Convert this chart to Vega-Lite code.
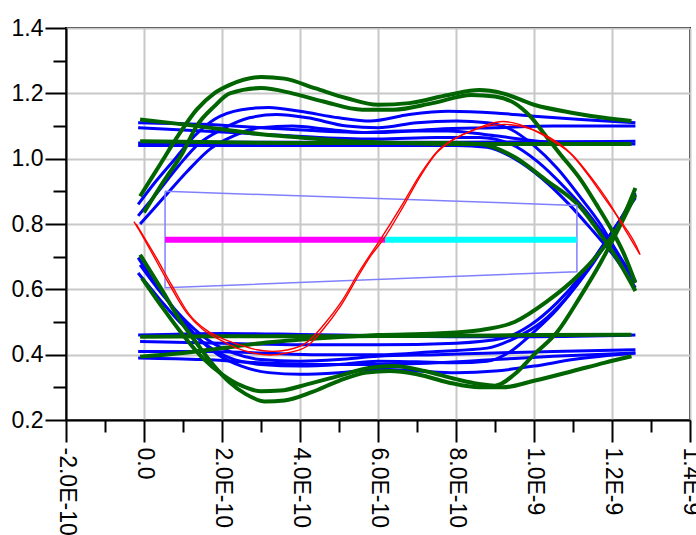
{
  "$schema": "https://vega.github.io/schema/vega-lite/v6.json",
  "width": 624,
  "height": 392,
  "autosize": "none",
  "padding": {"left": 66, "top": 28, "right": 6, "bottom": 115},
  "background": "white",
  "config": {
    "view": {"stroke": "black", "strokeWidth": 2},
    "axis": {
      "domainColor": "black", "domainWidth": 2,
      "tickColor": "black", "tickWidth": 2,
      "gridColor": "#c8c8c8", "gridWidth": 2,
      "labelFont": "Liberation Sans", "labelFontSize": 23, "labelColor": "black",
      "labelOverlap": false, "labelFlush": false, "title": null
    }
  },
  "datasets": {
    "mask": [
      {"t": 0.54e-10, "v": 0.90, "o": 1},
      {"t": 11.1e-10, "v": 0.857, "o": 2},
      {"t": 11.1e-10, "v": 0.654, "o": 3},
      {"t": 0.54e-10, "v": 0.605, "o": 4},
      {"t": 0.54e-10, "v": 0.90, "o": 5}
    ],
    "level": [
      {"s": "m", "t": 0.54e-10, "v": 0.752},
      {"s": "m", "t": 6.18e-10, "v": 0.752},
      {"s": "c", "t": 6.18e-10, "v": 0.752},
      {"s": "c", "t": 11.1e-10, "v": 0.752}
    ],
    "eye": [
      {"s":"G1","c":"g","t":-0.1e-10,"v":0.885},{"s":"G1","c":"g","t":0.4e-10,"v":0.98},{"s":"G1","c":"g","t":0.9e-10,"v":1.075},{"s":"G1","c":"g","t":1.35e-10,"v":1.15},{"s":"G1","c":"g","t":1.8e-10,"v":1.2},{"s":"G1","c":"g","t":2.2e-10,"v":1.226},{"s":"G1","c":"g","t":3e-10,"v":1.25},{"s":"G1","c":"g","t":3.6e-10,"v":1.245},{"s":"G1","c":"g","t":4.4e-10,"v":1.215},{"s":"G1","c":"g","t":5.2e-10,"v":1.185},{"s":"G1","c":"g","t":6e-10,"v":1.165},{"s":"G1","c":"g","t":6.8e-10,"v":1.17},{"s":"G1","c":"g","t":7.8e-10,"v":1.195},{"s":"G1","c":"g","t":8.6e-10,"v":1.21},{"s":"G1","c":"g","t":9.2e-10,"v":1.2},{"s":"G1","c":"g","t":10e-10,"v":1.165},{"s":"G1","c":"g","t":11e-10,"v":1.14},{"s":"G1","c":"g","t":11.8e-10,"v":1.125},{"s":"G1","c":"g","t":12.5e-10,"v":1.115},
      {"s":"G2","c":"g","t":0,"v":0.835},{"s":"G2","c":"g","t":0.5e-10,"v":0.93},{"s":"G2","c":"g","t":1e-10,"v":1.02},{"s":"G2","c":"g","t":1.35e-10,"v":1.1},{"s":"G2","c":"g","t":1.8e-10,"v":1.16},{"s":"G2","c":"g","t":2.2e-10,"v":1.2},{"s":"G2","c":"g","t":3e-10,"v":1.216},{"s":"G2","c":"g","t":3.8e-10,"v":1.2},{"s":"G2","c":"g","t":4.6e-10,"v":1.175},{"s":"G2","c":"g","t":5.6e-10,"v":1.15},{"s":"G2","c":"g","t":6.4e-10,"v":1.15},{"s":"G2","c":"g","t":7.4e-10,"v":1.17},{"s":"G2","c":"g","t":8.4e-10,"v":1.195},{"s":"G2","c":"g","t":9e-10,"v":1.19},{"s":"G2","c":"g","t":9.5e-10,"v":1.17},{"s":"G2","c":"g","t":9.9e-10,"v":1.13},{"s":"G2","c":"g","t":10.3e-10,"v":1.07},{"s":"G2","c":"g","t":10.7e-10,"v":1.01},{"s":"G2","c":"g","t":11.2e-10,"v":0.935},{"s":"G2","c":"g","t":11.6e-10,"v":0.86},{"s":"G2","c":"g","t":12e-10,"v":0.78},{"s":"G2","c":"g","t":12.3e-10,"v":0.71},{"s":"G2","c":"g","t":12.6e-10,"v":0.62},
      {"s":"G3","c":"g","t":-0.1e-10,"v":1.12},{"s":"G3","c":"g","t":1e-10,"v":1.105},{"s":"G3","c":"g","t":2e-10,"v":1.09},{"s":"G3","c":"g","t":3e-10,"v":1.075},{"s":"G3","c":"g","t":4e-10,"v":1.065},{"s":"G3","c":"g","t":5e-10,"v":1.055},{"s":"G3","c":"g","t":6e-10,"v":1.05},{"s":"G3","c":"g","t":8e-10,"v":1.045},{"s":"G3","c":"g","t":10e-10,"v":1.045},{"s":"G3","c":"g","t":12.5e-10,"v":1.045},
      {"s":"G4","c":"g","t":-0.1e-10,"v":1.053},{"s":"G4","c":"g","t":2e-10,"v":1.05},{"s":"G4","c":"g","t":4e-10,"v":1.048},{"s":"G4","c":"g","t":6e-10,"v":1.048},{"s":"G4","c":"g","t":7.8e-10,"v":1.048},{"s":"G4","c":"g","t":8.6e-10,"v":1.045},{"s":"G4","c":"g","t":9.5e-10,"v":1.005},{"s":"G4","c":"g","t":10.3e-10,"v":0.935},{"s":"G4","c":"g","t":11.2e-10,"v":0.85},{"s":"G4","c":"g","t":11.7e-10,"v":0.77},{"s":"G4","c":"g","t":12.2e-10,"v":0.68},{"s":"G4","c":"g","t":12.6e-10,"v":0.595},
      {"s":"G5","c":"g","t":-0.1e-10,"v":0.706},{"s":"G5","c":"g","t":0.5e-10,"v":0.59},{"s":"G5","c":"g","t":0.9e-10,"v":0.51},{"s":"G5","c":"g","t":1.35e-10,"v":0.435},{"s":"G5","c":"g","t":1.8e-10,"v":0.365},{"s":"G5","c":"g","t":2.2e-10,"v":0.315},{"s":"G5","c":"g","t":2.6e-10,"v":0.28},{"s":"G5","c":"g","t":3.1e-10,"v":0.257},{"s":"G5","c":"g","t":3.6e-10,"v":0.26},{"s":"G5","c":"g","t":4.3e-10,"v":0.285},{"s":"G5","c":"g","t":5e-10,"v":0.32},{"s":"G5","c":"g","t":5.7e-10,"v":0.345},{"s":"G5","c":"g","t":6.3e-10,"v":0.35},{"s":"G5","c":"g","t":7e-10,"v":0.34},{"s":"G5","c":"g","t":7.8e-10,"v":0.315},{"s":"G5","c":"g","t":8.6e-10,"v":0.3},{"s":"G5","c":"g","t":9.2e-10,"v":0.3},{"s":"G5","c":"g","t":10e-10,"v":0.32},{"s":"G5","c":"g","t":11e-10,"v":0.35},{"s":"G5","c":"g","t":11.8e-10,"v":0.375},{"s":"G5","c":"g","t":12.5e-10,"v":0.395},
      {"s":"G6","c":"g","t":-0.05e-10,"v":0.634},{"s":"G6","c":"g","t":0.5e-10,"v":0.54},{"s":"G6","c":"g","t":1e-10,"v":0.46},{"s":"G6","c":"g","t":1.5e-10,"v":0.39},{"s":"G6","c":"g","t":2e-10,"v":0.34},{"s":"G6","c":"g","t":2.5e-10,"v":0.305},{"s":"G6","c":"g","t":3e-10,"v":0.288},{"s":"G6","c":"g","t":3.5e-10,"v":0.29},{"s":"G6","c":"g","t":4.2e-10,"v":0.31},{"s":"G6","c":"g","t":5e-10,"v":0.335},{"s":"G6","c":"g","t":5.8e-10,"v":0.36},{"s":"G6","c":"g","t":6.4e-10,"v":0.365},{"s":"G6","c":"g","t":7.2e-10,"v":0.35},{"s":"G6","c":"g","t":8e-10,"v":0.325},{"s":"G6","c":"g","t":8.6e-10,"v":0.31},{"s":"G6","c":"g","t":9e-10,"v":0.305},{"s":"G6","c":"g","t":9.5e-10,"v":0.34},{"s":"G6","c":"g","t":10e-10,"v":0.4},{"s":"G6","c":"g","t":10.6e-10,"v":0.47},{"s":"G6","c":"g","t":11.2e-10,"v":0.58},{"s":"G6","c":"g","t":11.7e-10,"v":0.68},{"s":"G6","c":"g","t":12.1e-10,"v":0.77},{"s":"G6","c":"g","t":12.6e-10,"v":0.89},
      {"s":"G7","c":"g","t":-0.1e-10,"v":0.455},{"s":"G7","c":"g","t":2e-10,"v":0.456},{"s":"G7","c":"g","t":4e-10,"v":0.456},{"s":"G7","c":"g","t":6e-10,"v":0.457},{"s":"G7","c":"g","t":8e-10,"v":0.458},{"s":"G7","c":"g","t":10e-10,"v":0.46},{"s":"G7","c":"g","t":12.5e-10,"v":0.461},
      {"s":"G8","c":"g","t":-0.1e-10,"v":0.394},{"s":"G8","c":"g","t":1e-10,"v":0.405},{"s":"G8","c":"g","t":2e-10,"v":0.42},{"s":"G8","c":"g","t":3e-10,"v":0.435},{"s":"G8","c":"g","t":4.5e-10,"v":0.45},{"s":"G8","c":"g","t":6e-10,"v":0.46},{"s":"G8","c":"g","t":7.5e-10,"v":0.465},{"s":"G8","c":"g","t":8.6e-10,"v":0.475},{"s":"G8","c":"g","t":9.5e-10,"v":0.5},{"s":"G8","c":"g","t":10.3e-10,"v":0.56},{"s":"G8","c":"g","t":11.2e-10,"v":0.65},{"s":"G8","c":"g","t":11.8e-10,"v":0.73},{"s":"G8","c":"g","t":12.2e-10,"v":0.8},{"s":"G8","c":"g","t":12.6e-10,"v":0.91},
      {"s":"B1","c":"b","t":-0.15e-10,"v":1.11},{"s":"B1","c":"b","t":1.5e-10,"v":1.105},{"s":"B1","c":"b","t":3e-10,"v":1.095},{"s":"B1","c":"b","t":4.5e-10,"v":1.085},{"s":"B1","c":"b","t":6e-10,"v":1.08},{"s":"B1","c":"b","t":7.5e-10,"v":1.09},{"s":"B1","c":"b","t":9e-10,"v":1.095},{"s":"B1","c":"b","t":10.5e-10,"v":1.1},{"s":"B1","c":"b","t":12.6e-10,"v":1.1},
      {"s":"B2","c":"b","t":-0.15e-10,"v":1.095},{"s":"B2","c":"b","t":1.5e-10,"v":1.085},{"s":"B2","c":"b","t":3e-10,"v":1.075},{"s":"B2","c":"b","t":4.5e-10,"v":1.065},{"s":"B2","c":"b","t":6e-10,"v":1.06},{"s":"B2","c":"b","t":7.5e-10,"v":1.065},{"s":"B2","c":"b","t":8.6e-10,"v":1.065},{"s":"B2","c":"b","t":9.4e-10,"v":1.045},{"s":"B2","c":"b","t":10.1e-10,"v":0.99},{"s":"B2","c":"b","t":10.8e-10,"v":0.91},{"s":"B2","c":"b","t":11.4e-10,"v":0.83},{"s":"B2","c":"b","t":11.9e-10,"v":0.75},{"s":"B2","c":"b","t":12.6e-10,"v":0.62},
      {"s":"B3","c":"b","t":-0.15e-10,"v":1.048},{"s":"B3","c":"b","t":2e-10,"v":1.05},{"s":"B3","c":"b","t":4e-10,"v":1.05},{"s":"B3","c":"b","t":6e-10,"v":1.05},{"s":"B3","c":"b","t":8e-10,"v":1.05},{"s":"B3","c":"b","t":10e-10,"v":1.052},{"s":"B3","c":"b","t":12.6e-10,"v":1.053},
      {"s":"B4","c":"b","t":-0.15e-10,"v":1.04},{"s":"B4","c":"b","t":2e-10,"v":1.04},{"s":"B4","c":"b","t":4e-10,"v":1.04},{"s":"B4","c":"b","t":6e-10,"v":1.04},{"s":"B4","c":"b","t":8e-10,"v":1.04},{"s":"B4","c":"b","t":8.8e-10,"v":1.035},{"s":"B4","c":"b","t":9.5e-10,"v":1.0},{"s":"B4","c":"b","t":10.2e-10,"v":0.94},{"s":"B4","c":"b","t":10.9e-10,"v":0.86},{"s":"B4","c":"b","t":11.5e-10,"v":0.78},{"s":"B4","c":"b","t":12e-10,"v":0.71},{"s":"B4","c":"b","t":12.6e-10,"v":0.605},
      {"s":"B5","c":"b","t":-0.15e-10,"v":0.86},{"s":"B5","c":"b","t":0.3e-10,"v":0.93},{"s":"B5","c":"b","t":0.8e-10,"v":1.0},{"s":"B5","c":"b","t":1.3e-10,"v":1.07},{"s":"B5","c":"b","t":1.8e-10,"v":1.12},{"s":"B5","c":"b","t":2.5e-10,"v":1.15},{"s":"B5","c":"b","t":3.2e-10,"v":1.157},{"s":"B5","c":"b","t":4e-10,"v":1.145},{"s":"B5","c":"b","t":5e-10,"v":1.125},{"s":"B5","c":"b","t":5.8e-10,"v":1.115},{"s":"B5","c":"b","t":6.8e-10,"v":1.135},{"s":"B5","c":"b","t":7.8e-10,"v":1.145},{"s":"B5","c":"b","t":9e-10,"v":1.14},{"s":"B5","c":"b","t":10e-10,"v":1.13},{"s":"B5","c":"b","t":11.2e-10,"v":1.12},{"s":"B5","c":"b","t":12.6e-10,"v":1.11},
      {"s":"B6","c":"b","t":-0.15e-10,"v":0.825},{"s":"B6","c":"b","t":0.4e-10,"v":0.905},{"s":"B6","c":"b","t":0.9e-10,"v":0.98},{"s":"B6","c":"b","t":1.4e-10,"v":1.045},{"s":"B6","c":"b","t":2e-10,"v":1.09},{"s":"B6","c":"b","t":2.7e-10,"v":1.125},{"s":"B6","c":"b","t":3.4e-10,"v":1.135},{"s":"B6","c":"b","t":4.2e-10,"v":1.125},{"s":"B6","c":"b","t":5.2e-10,"v":1.1},{"s":"B6","c":"b","t":6e-10,"v":1.095},{"s":"B6","c":"b","t":7e-10,"v":1.11},{"s":"B6","c":"b","t":8e-10,"v":1.115},{"s":"B6","c":"b","t":8.8e-10,"v":1.11},{"s":"B6","c":"b","t":9.4e-10,"v":1.09},{"s":"B6","c":"b","t":10e-10,"v":1.04},{"s":"B6","c":"b","t":10.6e-10,"v":0.97},{"s":"B6","c":"b","t":11.2e-10,"v":0.88},{"s":"B6","c":"b","t":11.7e-10,"v":0.8},{"s":"B6","c":"b","t":12.1e-10,"v":0.72},{"s":"B6","c":"b","t":12.6e-10,"v":0.625},
      {"s":"B7","c":"b","t":-0.1e-10,"v":0.8},{"s":"B7","c":"b","t":0.5e-10,"v":0.88},{"s":"B7","c":"b","t":1.1e-10,"v":0.96},{"s":"B7","c":"b","t":1.7e-10,"v":1.03},{"s":"B7","c":"b","t":2.3e-10,"v":1.07},{"s":"B7","c":"b","t":3e-10,"v":1.095},{"s":"B7","c":"b","t":3.8e-10,"v":1.1},{"s":"B7","c":"b","t":4.7e-10,"v":1.09},{"s":"B7","c":"b","t":5.6e-10,"v":1.08},{"s":"B7","c":"b","t":6.6e-10,"v":1.085},{"s":"B7","c":"b","t":7.8e-10,"v":1.085},{"s":"B7","c":"b","t":9e-10,"v":1.07},{"s":"B7","c":"b","t":10.5e-10,"v":1.05},{"s":"B7","c":"b","t":12.6e-10,"v":1.045},
      {"s":"B8","c":"b","t":-0.15e-10,"v":0.697},{"s":"B8","c":"b","t":0.4e-10,"v":0.6},{"s":"B8","c":"b","t":0.9e-10,"v":0.52},{"s":"B8","c":"b","t":1.4e-10,"v":0.45},{"s":"B8","c":"b","t":1.9e-10,"v":0.4},{"s":"B8","c":"b","t":2.5e-10,"v":0.365},{"s":"B8","c":"b","t":3.2e-10,"v":0.345},{"s":"B8","c":"b","t":4e-10,"v":0.34},{"s":"B8","c":"b","t":5e-10,"v":0.345},{"s":"B8","c":"b","t":6e-10,"v":0.355},{"s":"B8","c":"b","t":7e-10,"v":0.35},{"s":"B8","c":"b","t":8e-10,"v":0.345},{"s":"B8","c":"b","t":9e-10,"v":0.35},{"s":"B8","c":"b","t":10e-10,"v":0.365},{"s":"B8","c":"b","t":11e-10,"v":0.385},{"s":"B8","c":"b","t":12.6e-10,"v":0.405},
      {"s":"B9","c":"b","t":-0.15e-10,"v":0.65},{"s":"B9","c":"b","t":0.4e-10,"v":0.57},{"s":"B9","c":"b","t":1e-10,"v":0.49},{"s":"B9","c":"b","t":1.6e-10,"v":0.43},{"s":"B9","c":"b","t":2.2e-10,"v":0.39},{"s":"B9","c":"b","t":3e-10,"v":0.37},{"s":"B9","c":"b","t":4e-10,"v":0.365},{"s":"B9","c":"b","t":5e-10,"v":0.37},{"s":"B9","c":"b","t":6e-10,"v":0.38},{"s":"B9","c":"b","t":7e-10,"v":0.378},{"s":"B9","c":"b","t":8e-10,"v":0.375},{"s":"B9","c":"b","t":8.8e-10,"v":0.38},{"s":"B9","c":"b","t":9.4e-10,"v":0.41},{"s":"B9","c":"b","t":10e-10,"v":0.47},{"s":"B9","c":"b","t":10.6e-10,"v":0.54},{"s":"B9","c":"b","t":11.2e-10,"v":0.63},{"s":"B9","c":"b","t":11.8e-10,"v":0.74},{"s":"B9","c":"b","t":12.6e-10,"v":0.88},
      {"s":"B10","c":"b","t":-0.1e-10,"v":0.675},{"s":"B10","c":"b","t":0.5e-10,"v":0.58},{"s":"B10","c":"b","t":1.1e-10,"v":0.5},{"s":"B10","c":"b","t":1.7e-10,"v":0.44},{"s":"B10","c":"b","t":2.3e-10,"v":0.405},{"s":"B10","c":"b","t":3e-10,"v":0.385},{"s":"B10","c":"b","t":4e-10,"v":0.38},{"s":"B10","c":"b","t":5e-10,"v":0.385},{"s":"B10","c":"b","t":6e-10,"v":0.395},{"s":"B10","c":"b","t":7.5e-10,"v":0.4},{"s":"B10","c":"b","t":9e-10,"v":0.405},{"s":"B10","c":"b","t":10.5e-10,"v":0.41},{"s":"B10","c":"b","t":12.6e-10,"v":0.415},
      {"s":"B11","c":"b","t":-0.15e-10,"v":0.46},{"s":"B11","c":"b","t":2e-10,"v":0.465},{"s":"B11","c":"b","t":4e-10,"v":0.462},{"s":"B11","c":"b","t":6e-10,"v":0.458},{"s":"B11","c":"b","t":8e-10,"v":0.455},{"s":"B11","c":"b","t":10e-10,"v":0.455},{"s":"B11","c":"b","t":12.6e-10,"v":0.46},
      {"s":"B12","c":"b","t":-0.15e-10,"v":0.41},{"s":"B12","c":"b","t":1.5e-10,"v":0.41},{"s":"B12","c":"b","t":3e-10,"v":0.405},{"s":"B12","c":"b","t":4.5e-10,"v":0.4},{"s":"B12","c":"b","t":6e-10,"v":0.4},{"s":"B12","c":"b","t":7.5e-10,"v":0.41},{"s":"B12","c":"b","t":8.8e-10,"v":0.42},{"s":"B12","c":"b","t":9.5e-10,"v":0.45},{"s":"B12","c":"b","t":10.2e-10,"v":0.5},{"s":"B12","c":"b","t":10.8e-10,"v":0.57},{"s":"B12","c":"b","t":11.4e-10,"v":0.66},{"s":"B12","c":"b","t":12e-10,"v":0.77},{"s":"B12","c":"b","t":12.6e-10,"v":0.895},
      {"s":"B13","c":"b","t":-0.15e-10,"v":0.39},{"s":"B13","c":"b","t":1.5e-10,"v":0.385},{"s":"B13","c":"b","t":3e-10,"v":0.375},{"s":"B13","c":"b","t":4.5e-10,"v":0.37},{"s":"B13","c":"b","t":6e-10,"v":0.37},{"s":"B13","c":"b","t":7.5e-10,"v":0.375},{"s":"B13","c":"b","t":9e-10,"v":0.385},{"s":"B13","c":"b","t":10.5e-10,"v":0.395},{"s":"B13","c":"b","t":12.6e-10,"v":0.405},
      {"s":"B14","c":"b","t":-0.1e-10,"v":0.44},{"s":"B14","c":"b","t":2e-10,"v":0.435},{"s":"B14","c":"b","t":4e-10,"v":0.43},{"s":"B14","c":"b","t":6e-10,"v":0.43},{"s":"B14","c":"b","t":8e-10,"v":0.435},{"s":"B14","c":"b","t":9.2e-10,"v":0.45},{"s":"B14","c":"b","t":9.9e-10,"v":0.49},{"s":"B14","c":"b","t":10.6e-10,"v":0.56},{"s":"B14","c":"b","t":11.2e-10,"v":0.64},{"s":"B14","c":"b","t":11.8e-10,"v":0.74},{"s":"B14","c":"b","t":12.6e-10,"v":0.885},
      {"s":"R1","c":"r","t":-0.256e-10,"v":0.807},{"s":"R1","c":"r","t":-0.128e-10,"v":0.782},{"s":"R1","c":"r","t":0.154e-10,"v":0.722},{"s":"R1","c":"r","t":0.58e-10,"v":0.63},{"s":"R1","c":"r","t":1.1e-10,"v":0.527},{"s":"R1","c":"r","t":1.51e-10,"v":0.477},{"s":"R1","c":"r","t":1.95e-10,"v":0.445},{"s":"R1","c":"r","t":2.38e-10,"v":0.42},{"s":"R1","c":"r","t":2.8e-10,"v":0.405},{"s":"R1","c":"r","t":3.23e-10,"v":0.399},{"s":"R1","c":"r","t":3.66e-10,"v":0.405},{"s":"R1","c":"r","t":4.17e-10,"v":0.425},{"s":"R1","c":"r","t":4.59e-10,"v":0.477},{"s":"R1","c":"r","t":5.03e-10,"v":0.547},{"s":"R1","c":"r","t":5.54e-10,"v":0.65},{"s":"R1","c":"r","t":5.8e-10,"v":0.7},{"s":"R1","c":"r","t":6.13e-10,"v":0.752},{"s":"R1","c":"r","t":6.65e-10,"v":0.854},{"s":"R1","c":"r","t":7.08e-10,"v":0.945},{"s":"R1","c":"r","t":7.5e-10,"v":1.017},{"s":"R1","c":"r","t":7.93e-10,"v":1.058},{"s":"R1","c":"r","t":8.36e-10,"v":1.083},{"s":"R1","c":"r","t":8.79e-10,"v":1.104},{"s":"R1","c":"r","t":9.21e-10,"v":1.114},{"s":"R1","c":"r","t":9.64e-10,"v":1.104},{"s":"R1","c":"r","t":10.07e-10,"v":1.083},{"s":"R1","c":"r","t":10.5e-10,"v":1.053},{"s":"R1","c":"r","t":10.92e-10,"v":1.017},{"s":"R1","c":"r","t":11.35e-10,"v":0.956},{"s":"R1","c":"r","t":11.78e-10,"v":0.884},{"s":"R1","c":"r","t":12.2e-10,"v":0.813},{"s":"R1","c":"r","t":12.63e-10,"v":0.731},{"s":"R1","c":"r","t":12.72e-10,"v":0.706},
      {"s":"R2","c":"r","t":-0.2e-10,"v":0.8},{"s":"R2","c":"r","t":0,"v":0.76},{"s":"R2","c":"r","t":0.3e-10,"v":0.7},{"s":"R2","c":"r","t":0.7e-10,"v":0.615},{"s":"R2","c":"r","t":1.15e-10,"v":0.525},{"s":"R2","c":"r","t":1.6e-10,"v":0.475},{"s":"R2","c":"r","t":2e-10,"v":0.45},{"s":"R2","c":"r","t":2.45e-10,"v":0.43},{"s":"R2","c":"r","t":2.9e-10,"v":0.415},{"s":"R2","c":"r","t":3.3e-10,"v":0.41},{"s":"R2","c":"r","t":3.7e-10,"v":0.415},{"s":"R2","c":"r","t":4.2e-10,"v":0.44},{"s":"R2","c":"r","t":4.6e-10,"v":0.49},{"s":"R2","c":"r","t":5.05e-10,"v":0.56},{"s":"R2","c":"r","t":5.55e-10,"v":0.66},{"s":"R2","c":"r","t":6.1e-10,"v":0.76},{"s":"R2","c":"r","t":6.65e-10,"v":0.865},{"s":"R2","c":"r","t":7.1e-10,"v":0.955},{"s":"R2","c":"r","t":7.5e-10,"v":1.02},{"s":"R2","c":"r","t":7.95e-10,"v":1.06},{"s":"R2","c":"r","t":8.4e-10,"v":1.085},{"s":"R2","c":"r","t":8.8e-10,"v":1.1},{"s":"R2","c":"r","t":9.25e-10,"v":1.105},{"s":"R2","c":"r","t":9.7e-10,"v":1.098},{"s":"R2","c":"r","t":10.15e-10,"v":1.08},{"s":"R2","c":"r","t":10.6e-10,"v":1.05},{"s":"R2","c":"r","t":11e-10,"v":1.01},{"s":"R2","c":"r","t":11.45e-10,"v":0.945},{"s":"R2","c":"r","t":11.9e-10,"v":0.87},{"s":"R2","c":"r","t":12.3e-10,"v":0.79},{"s":"R2","c":"r","t":12.7e-10,"v":0.71}
    ]
  },
  "encoding": {
    "x": {
      "field": "t", "type": "quantitative",
      "scale": {"domain": [-2e-10, 1.4e-9], "nice": false, "zero": false},
      "axis": {
        "values": [-2e-10, -1e-10, 0, 1e-10, 2e-10, 3e-10, 4e-10, 5e-10, 6e-10, 7e-10, 8e-10, 9e-10, 1e-9, 1.1e-9, 1.2e-9, 1.3e-9, 1.4e-9],
        "labelExpr": "['-2.0E-10','','0.0','','2.0E-10','','4.0E-10','','6.0E-10','','8.0E-10','','1.0E-9','','1.2E-9','','1.4E-9'][round(datum.value*1e10)+2]",
        "labelAngle": 90, "labelAlign": "left", "labelBaseline": "middle", "labelPadding": 5,
        "tickSize": {"condition": {"test": "round(datum.value*1e10) % 2 != 0", "value": 12}, "value": 22},
        "gridOpacity": {"condition": {"test": "round(datum.value*1e10) % 2 != 0", "value": 0}, "value": 1}
      }
    },
    "y": {
      "field": "v", "type": "quantitative",
      "scale": {"domain": [0.2, 1.4], "nice": false, "zero": false},
      "axis": {
        "values": [0.2, 0.3, 0.4, 0.5, 0.6, 0.7, 0.8, 0.9, 1.0, 1.1, 1.2, 1.3, 1.4],
        "labelExpr": "round(datum.value*10) % 2 != 0 ? '' : format(datum.value, '.1f')",
        "labelPadding": 2,
        "tickSize": {"condition": {"test": "round(datum.value*10) % 2 != 0", "value": 13}, "value": 21},
        "gridOpacity": {"condition": {"test": "round(datum.value*10) % 2 != 0", "value": 0}, "value": 1}
      }
    }
  },
  "layer": [
    {
      "data": {"name": "eye"},
      "transform": [{"filter": "datum.c == 'b'"}],
      "mark": {"type": "line", "color": "#0000ff", "strokeWidth": 3, "interpolate": "monotone"},
      "encoding": {"detail": {"field": "s"}}
    },
    {
      "data": {"name": "eye"},
      "transform": [{"filter": "datum.c == 'g'"}],
      "mark": {"type": "line", "color": "#006400", "strokeWidth": 4, "interpolate": "monotone"},
      "encoding": {"detail": {"field": "s"}}
    },
    {
      "data": {"name": "mask"},
      "mark": {"type": "line", "color": "#8080ff", "strokeWidth": 1.5},
      "encoding": {"order": {"field": "o", "type": "quantitative"}}
    },
    {
      "data": {"name": "level"},
      "mark": {"type": "line", "strokeWidth": 6},
      "encoding": {
        "color": {"field": "s", "type": "nominal", "scale": {"domain": ["m", "c"], "range": ["#ff00ff", "#00ffff"]}, "legend": null}
      }
    },
    {
      "data": {"name": "eye"},
      "transform": [{"filter": "datum.c == 'r'"}],
      "mark": {"type": "line", "color": "#ff0000", "strokeWidth": 1.4, "interpolate": "monotone"},
      "encoding": {"detail": {"field": "s"}}
    }
  ]
}
